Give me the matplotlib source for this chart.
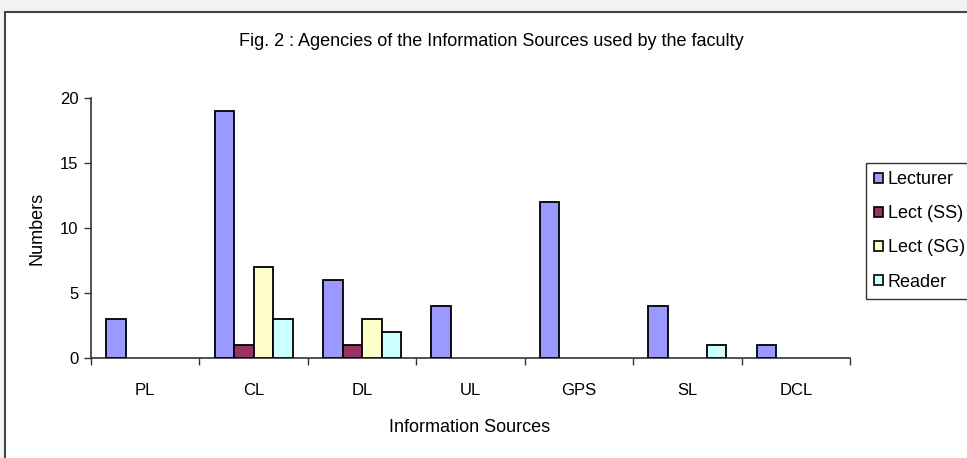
import matplotlib
matplotlib.use("Agg")
import matplotlib.pyplot as plt
from matplotlib.patches import Rectangle, Patch
import numpy as np

plt.rcParams['font.family'] = ['Liberation Sans', 'DejaVu Sans']

categories = ["PL", "CL", "DL", "UL", "GPS", "SL", "DCL"]
series_names = ["Lecturer", "Lect (SS)", "Lect (SG)", "Reader"]
lecturer = [3, 19, 6, 4, 12, 4, 1]
lect_ss = [0, 1, 1, 0, 0, 0, 0]
lect_sg = [0, 7, 3, 0, 0, 0, 0]
reader = [0, 3, 2, 0, 0, 1, 0]
series = [lecturer, lect_ss, lect_sg, reader]
colors = ["#9999FF", "#993366", "#FFFFCC", "#CCFFFF"]
title = "Fig. 2 : Agencies of the Information Sources used by the faculty"

W, H = 967, 458
fig = plt.figure(figsize=(W / 100, H / 100), dpi=100)
fig.patch.set_facecolor("#f3f3f3")

# chart area frame
fig.patches.append(Rectangle((5 / W, -0.05), 1.1, 1 - 12 / H + 0.05,
                             transform=fig.transFigure, facecolor="white",
                             edgecolor="#444444", linewidth=1.5, zorder=-5))

ax = fig.add_axes([91 / W, 1 - 358 / H, (850 - 91) / W, (358 - 98) / H])
ax.set_zorder(2)
ax.set_facecolor("none")
ax.patch.set_alpha(0)

x = np.arange(len(categories))
bw = 0.18
handles = []
for i, (vals, name, c) in enumerate(zip(series, series_names, colors)):
    offs = (i - 1.5) * bw
    bars = ax.bar(x + offs, vals, width=bw, color=c, edgecolor="black",
                  linewidth=1.3, zorder=3)
    for b, v in zip(bars, vals):
        if v == 0:
            b.set_edgecolor("none")
    handles.append(Patch(facecolor=c, edgecolor="black", linewidth=1.2, label=name))

ax.set_xlim(-0.5, len(categories) - 0.5)
ax.set_ylim(0, 20)
ax.set_yticks([0, 5, 10, 15, 20])
ax.set_xticks(np.arange(-0.5, len(categories), 1.0))
ax.set_xticklabels([])
ax.set_xticks(x, minor=True)
ax.set_xticklabels(categories, minor=True)
ax.tick_params(axis="x", which="major", direction="out", length=5, width=1, color="#333333")
ax.tick_params(axis="x", which="minor", length=0, pad=18, labelsize=12)
ax.tick_params(axis="y", direction="out", length=5, width=1, color="#333333", labelsize=12, pad=4)

for s in ["top", "right"]:
    ax.spines[s].set_visible(False)
for s in ["left", "bottom"]:
    ax.spines[s].set_color("#333333")
    ax.spines[s].set_linewidth(1.2)

fig.text(491 / W, 1 - 42 / H, title, ha="center", va="center", fontsize=13)
fig.text(37 / W, 1 - 228 / H, "Numbers", ha="center", va="center", rotation=90, fontsize=13)
fig.text(470 / W, 1 - 428 / H, "Information Sources", ha="center", va="center", fontsize=13)

leg = ax.legend(handles=handles, loc="upper left", bbox_to_anchor=(866 / W, 1 - 163 / H),
                bbox_transform=fig.transFigure, frameon=True, fancybox=False,
                edgecolor="black", fontsize=13, handlelength=0.5, handleheight=0.5,
                handletextpad=0.25, labelspacing=0.95, borderpad=0.45, borderaxespad=0)
leg.get_frame().set_linewidth(1.0)

fig.savefig("out.png", dpi=100, facecolor=fig.get_facecolor())
